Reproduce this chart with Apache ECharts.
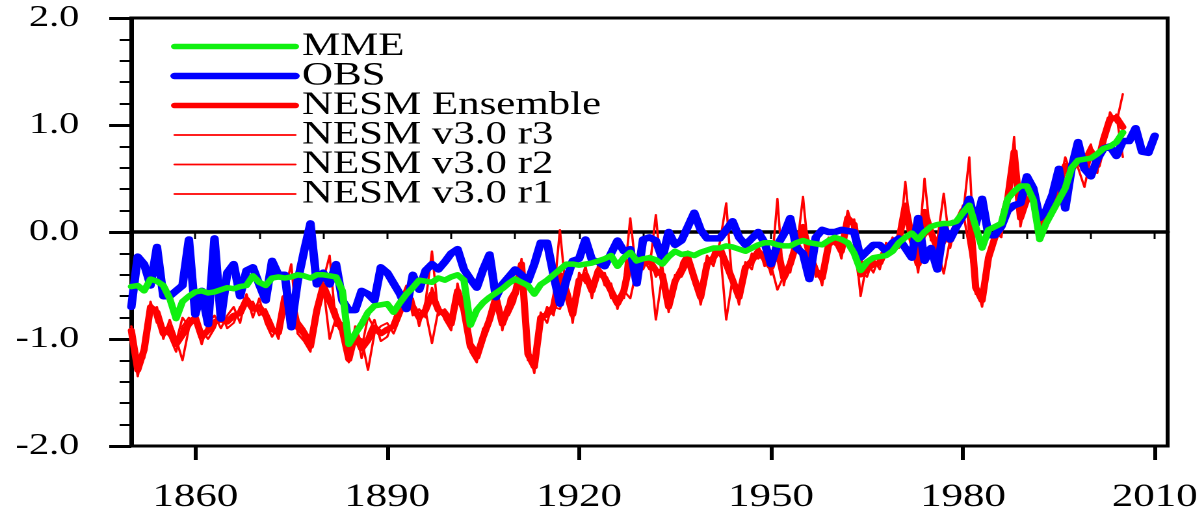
<!DOCTYPE html>
<html>
<head>
<meta charset="utf-8">
<script src="https://cdn.jsdelivr.net/npm/echarts@6/dist/echarts.min.js"></script>
<style>
html,body{margin:0;padding:0;background:#fff;overflow:hidden;}
#chart{width:926px;height:514px;transform:scaleX(1.30022);transform-origin:0 0;}
</style>
</head>
<body>
<div id="chart"></div>
<script>
const startYear = 1850;
const endYear = 2012;
const tickLabels = ['1860', '1890', '1920', '1950', '1980', '2010'];
const yTicks = [-2, -1, 0, 1, 2];

const obs = [
 -0.70,-0.23,-0.30,-0.50,-0.14,-0.60,-0.60,-0.55,-0.50,-0.07,
 -0.77,-0.55,-0.86,-0.06,-0.81,-0.38,-0.30,-0.60,-0.36,-0.33,
 -0.49,-0.64,-0.27,-0.40,-0.40,-0.89,-0.46,-0.18,0.08,-0.49,
 -0.38,-0.49,-0.30,-0.64,-0.73,-0.73,-0.55,-0.58,-0.64,-0.33,
 -0.38,-0.48,-0.58,-0.72,-0.40,-0.54,-0.36,-0.30,-0.35,-0.28,
 -0.20,-0.16,-0.35,-0.44,-0.52,-0.35,-0.21,-0.61,-0.49,-0.42,
 -0.35,-0.40,-0.46,-0.30,-0.10,-0.10,-0.40,-0.67,-0.45,-0.27,
 -0.25,-0.07,-0.26,-0.28,-0.32,-0.20,-0.08,-0.18,-0.16,-0.48,
 -0.07,-0.05,-0.08,-0.25,0.00,-0.12,-0.08,0.05,0.18,0.02,
 -0.06,-0.06,-0.06,0.02,0.10,-0.05,-0.12,-0.06,0.00,-0.10,
 -0.30,-0.12,-0.02,0.13,-0.15,-0.20,-0.44,-0.05,0.02,0.00,
 0.00,0.02,0.01,0.00,-0.24,-0.18,-0.12,-0.12,-0.18,-0.10,
 -0.06,-0.15,-0.24,0.13,-0.27,-0.15,-0.35,0.04,-0.07,0.05,
 0.15,0.31,0.07,0.31,-0.03,-0.03,0.05,0.20,0.25,0.27,
 0.52,0.41,0.13,0.20,0.35,0.59,0.22,0.60,0.84,0.59,
 0.52,0.68,0.78,0.80,0.71,0.85,0.85,0.97,0.75,0.74,
 0.90
];

const mme = [
 -0.51,-0.50,-0.55,-0.44,-0.46,-0.50,-0.62,-0.81,-0.65,-0.60,
 -0.56,-0.55,-0.57,-0.56,-0.54,-0.52,-0.53,-0.51,-0.50,-0.41,
 -0.47,-0.50,-0.43,-0.42,-0.43,-0.42,-0.40,-0.41,-0.43,-0.40,
 -0.40,-0.41,-0.42,-0.55,-1.05,-0.95,-0.86,-0.75,-0.69,-0.68,
 -0.67,-0.75,-0.66,-0.58,-0.52,-0.45,-0.46,-0.47,-0.43,-0.45,
 -0.42,-0.40,-0.45,-0.87,-0.73,-0.66,-0.61,-0.57,-0.53,-0.48,
 -0.44,-0.47,-0.50,-0.58,-0.49,-0.45,-0.40,-0.35,-0.30,-0.30,
 -0.31,-0.30,-0.29,-0.27,-0.25,-0.22,-0.32,-0.24,-0.19,-0.27,
 -0.25,-0.24,-0.26,-0.30,-0.23,-0.18,-0.21,-0.20,-0.22,-0.19,
 -0.17,-0.15,-0.15,-0.13,-0.14,-0.16,-0.18,-0.15,-0.12,-0.10,
 -0.10,-0.12,-0.13,-0.13,-0.10,-0.08,-0.10,-0.11,-0.12,-0.08,
 -0.05,-0.07,-0.10,-0.20,-0.36,-0.28,-0.24,-0.23,-0.22,-0.18,
 -0.10,-0.05,-0.01,-0.07,0.00,0.05,0.07,0.08,0.08,0.10,
 0.18,0.25,0.05,-0.15,0.02,0.05,0.08,0.31,0.38,0.43,
 0.43,0.30,-0.07,0.08,0.19,0.30,0.41,0.60,0.67,0.68,
 0.69,0.73,0.78,0.80,0.84,0.93
];

const nesmEnsemble = [
 -0.92,-1.29,-1.10,-0.70,-0.75,-0.95,-0.89,-1.05,-0.96,-0.86,
 -0.80,-0.98,-0.92,-0.84,-0.82,-0.84,-0.78,-0.76,-0.63,-0.72,
 -0.70,-0.78,-0.91,-0.94,-0.61,-0.62,-0.89,-0.95,-1.07,-0.73,
 -0.50,-0.64,-0.80,-0.92,-1.19,-0.95,-1.09,-1.01,-0.89,-0.95,
 -0.91,-0.88,-0.73,-0.58,-0.70,-0.80,-0.73,-0.58,-0.73,-0.77,
 -0.86,-0.55,-0.73,-1.07,-1.17,-0.98,-0.82,-0.61,-0.86,-0.70,
 -0.58,-0.30,-1.14,-1.26,-0.80,-0.77,-0.70,-0.40,-0.55,-0.77,
 -0.45,-0.40,-0.55,-0.36,-0.43,-0.55,-0.67,-0.55,-0.27,-0.35,
 -0.30,-0.27,-0.36,-0.40,-0.70,-0.46,-0.35,-0.24,-0.43,-0.61,
 -0.30,-0.24,-0.15,-0.30,-0.45,-0.61,-0.33,-0.27,-0.18,-0.25,
 -0.33,-0.15,-0.43,-0.30,-0.10,0.05,-0.21,-0.36,-0.43,-0.12,
 -0.06,-0.18,0.13,0.07,-0.40,-0.35,-0.30,-0.29,-0.15,-0.12,
 -0.08,0.25,-0.06,-0.30,0.19,0.00,-0.15,-0.05,-0.08,0.07,
 0.20,0.25,-0.52,-0.64,-0.24,-0.05,0.07,0.31,0.75,0.13,
 0.31,0.31,-0.03,0.16,0.25,0.45,0.62,0.59,0.66,0.60,
 0.76,0.62,0.87,1.06,1.07,0.98
];

const nesmR3 = [
 -0.95,-1.35,-1.05,-0.65,-0.85,-0.90,-0.98,-1.12,-0.88,-0.80,
 -0.85,-1.05,-0.85,-0.78,-0.90,-0.78,-0.70,-0.85,-0.58,-0.80,
 -0.62,-0.85,-0.98,-0.88,-0.55,-0.30,-0.95,-1.02,-1.12,-0.65,
 -0.45,-0.22,-0.88,-0.85,-1.22,-0.88,-1.18,-0.95,-0.82,-1.02,
 -0.98,-0.82,-0.65,-0.50,-0.78,-0.72,-0.80,-0.52,-0.68,-0.82,
 -0.92,-0.48,-0.80,-1.02,-1.10,-1.05,-0.75,-0.55,-0.92,-0.62,
 -0.52,-0.38,-1.08,-1.32,-0.75,-0.85,-0.62,0.02,-0.60,-0.70,
 -0.52,-0.32,-0.62,-0.30,-0.50,-0.48,-0.72,-0.48,0.13,-0.42,
 -0.25,-0.35,0.16,-0.48,-0.65,-0.52,-0.28,-0.18,-0.50,-0.55,
 -0.22,-0.32,-0.10,0.27,-0.52,-0.55,-0.40,-0.20,-0.25,-0.18,
 -0.40,0.31,-0.50,-0.22,-0.18,0.33,-0.28,-0.30,-0.50,-0.05,
 -0.12,-0.10,0.20,0.00,-0.60,-0.28,-0.38,-0.22,-0.20,-0.05,
 -0.15,0.47,-0.12,-0.22,0.50,-0.08,-0.08,0.36,-0.15,0.12,
 0.15,0.70,-0.45,-0.70,-0.30,-0.10,0.15,0.22,0.89,0.05,
 0.38,0.25,0.05,0.10,0.32,0.50,0.55,0.68,0.60,0.42,
 0.70,0.68,0.80,1.12,1.02,1.29
];

const nesmR2 = [
 -0.88,-1.22,-1.18,-0.75,-0.70,-1.00,-0.82,-1.00,-1.20,-0.90,
 -0.75,-0.92,-1.00,-0.90,-0.75,-0.90,-0.85,-0.70,-0.68,-0.65,
 -0.78,-0.72,-0.85,-1.00,-0.68,-0.70,-0.82,-0.90,-1.00,-0.80,
 -0.55,-0.70,-0.72,-0.98,-1.15,-1.02,-1.00,-1.29,-0.95,-0.88,
 -0.85,-0.95,-0.80,-0.65,-0.62,-0.88,-0.65,-0.18,-0.78,-0.72,
 -0.80,-0.62,-0.68,-1.12,-1.22,-0.90,-0.88,-0.68,-0.80,-0.78,
 -0.65,-0.25,-1.20,-1.20,-0.88,-0.70,-0.78,-0.48,-0.50,-0.85,
 -0.38,-0.48,-0.50,-0.42,-0.38,-0.62,-0.60,-0.62,-0.32,-0.28,
 -0.35,-0.22,-0.42,-0.32,-0.75,-0.40,-0.42,-0.30,-0.36,-0.68,
 -0.38,-0.18,-0.22,-0.35,-0.40,-0.68,-0.28,-0.35,-0.12,-0.32,
 -0.28,-0.22,-0.38,-0.38,-0.05,0.00,-0.15,-0.42,-0.38,-0.18,
 0.00,-0.25,0.08,0.12,-0.35,-0.42,-0.25,-0.35,-0.10,-0.18,
 -0.02,0.18,0.00,-0.38,0.12,0.05,-0.22,-0.12,-0.02,0.02,
 0.25,0.20,-0.58,-0.60,-0.18,0.00,-0.05,0.40,0.62,0.20,
 0.25,0.38,-0.08,0.22,0.18,0.40,0.70,0.52,0.72,0.70,
 0.82,0.55,0.92,1.00,1.10,0.95
];

const nesmR1 = [
 -0.93,-1.30,-1.07,-0.70,-0.72,-0.95,-0.87,-1.03,-0.80,-0.88,
 -0.80,-0.97,-0.91,-0.84,-0.81,-0.84,-0.79,-0.73,-0.63,-0.71,
 -0.70,-0.77,-0.90,-0.94,-0.60,-0.86,-0.90,-0.93,-1.09,-0.74,
 -0.50,-1.00,-0.80,-0.93,-1.20,-0.95,-1.09,-0.79,-0.90,-0.95,
 -0.90,-0.87,-0.74,-0.59,-0.70,-0.80,-0.74,-1.04,-0.73,-0.77,
 -0.86,-0.55,-0.71,-1.07,-1.19,-0.99,-0.83,-0.60,-0.86,-0.70,
 -0.57,-0.27,-1.14,-1.26,-0.77,-0.76,-0.70,-0.72,-0.55,-0.76,
 -0.45,-0.40,-0.53,-0.36,-0.41,-0.55,-0.69,-0.55,-0.62,-0.35,
 -0.30,-0.24,-0.82,-0.40,-0.70,-0.46,-0.35,-0.24,-0.43,-0.60,
 -0.30,-0.22,-0.13,-0.82,-0.43,-0.60,-0.31,-0.26,-0.17,-0.25,
 -0.31,-0.54,-0.41,-0.30,-0.07,-0.18,-0.20,-0.36,-0.41,-0.13,
 -0.06,-0.19,0.11,0.09,-0.25,-0.35,-0.27,-0.30,-0.15,-0.13,
 -0.07,0.10,-0.06,-0.30,-0.05,0.03,-0.15,-0.39,-0.07,0.07,
 0.20,-0.15,-0.53,-0.62,-0.24,-0.05,0.11,0.31,0.74,0.14,
 0.30,0.30,-0.06,0.16,0.25,0.45,0.61,0.57,0.66,0.68,
 0.76,0.63,0.89,1.06,1.09,0.70
];

const years = [];
for (let y = startYear; y <= endYear; y++) years.push(String(y));

const FONT = 'Liberation Serif';
const RED = '#ff0000', BLUE = '#0000ff', GREEN = '#10f010';

function lineSeries(name, data, color, width, z) {
  return {
    name: name, type: 'line', data: data, symbol: 'none', z: z,
    xAxisIndex: 0, yAxisIndex: 0,
    lineStyle: { color: color, width: width, cap: 'round', join: 'round' },
    itemStyle: { color: color },
    emphasis: { disabled: true }
  };
}

const chart = echarts.init(document.getElementById('chart'), null, { renderer: 'canvas', devicePixelRatio: 2 });
chart.setOption({
  animation: false,
  backgroundColor: '#ffffff',
  grid: { left: 101, right: 28, top: 18, height: 432, show: true, borderColor: '#000', borderWidth: 3, backgroundColor: 'transparent' },
  legend: {
    left: 131, top: 30, orient: 'vertical', itemGap: -3.5, padding: 0,
    itemWidth: 93, itemHeight: 14,
    data: ['MME', 'OBS', 'NESM Ensemble', 'NESM v3.0 r3', 'NESM v3.0 r2', 'NESM v3.0 r1'],
    textStyle: { fontFamily: FONT, fontSize: 33, color: '#000' },
    itemStyle: { opacity: 0 },
    lineStyle: { width: 'inherit', cap: 'round' },
    selectedMode: false
  },
  xAxis: [
    {
      type: 'category', data: years, boundaryGap: false, position: 'bottom',
      axisLine: { show: true, lineStyle: { color: '#000', width: 3.5 } },
      axisTick: { show: true, length: 7, lineStyle: { color: '#000', width: 1.5 },
        interval: function (i, v) { return (+v) % 10 === 0; } },
      axisLabel: { show: false },
      splitLine: { show: false }
    },
    {
      type: 'category', data: years, boundaryGap: false, position: 'bottom', gridIndex: 0,
      axisLine: { show: false },
      axisTick: { show: true, length: 14, lineStyle: { color: '#000', width: 3 },
        interval: function (i, v) { return tickLabels.indexOf(v) >= 0; } },
      axisLabel: { show: true, margin: 35, fontFamily: FONT, fontSize: 33, color: '#000',
        interval: function (i, v) { return tickLabels.indexOf(v) >= 0; } },
      splitLine: { show: false }
    }
  ],
  yAxis: {
    type: 'value', min: yTicks[0], max: yTicks[yTicks.length - 1], interval: 1,
    axisLine: { show: true, lineStyle: { color: '#000', width: 3 } },
    axisTick: { show: true, length: 17, lineStyle: { color: '#000', width: 3 } },
    minorTick: { show: true, splitNumber: 5, length: 9, lineStyle: { color: '#000', width: 2 } },
    axisLabel: { margin: 40, fontFamily: FONT, fontSize: 31, color: '#000',
      formatter: function (v) { return v.toFixed(1); } },
    splitLine: { show: false }
  },
  series: [
    lineSeries('NESM v3.0 r1', nesmR1, RED, 1.8, 2),
    lineSeries('NESM v3.0 r2', nesmR2, RED, 1.8, 2),
    lineSeries('NESM v3.0 r3', nesmR3, RED, 1.8, 2),
    lineSeries('NESM Ensemble', nesmEnsemble, RED, 5.5, 3),
    lineSeries('OBS', obs, BLUE, 6.5, 4),
    lineSeries('MME', mme, GREEN, 5.5, 5)
  ]
});
</script>
</body>
</html>
